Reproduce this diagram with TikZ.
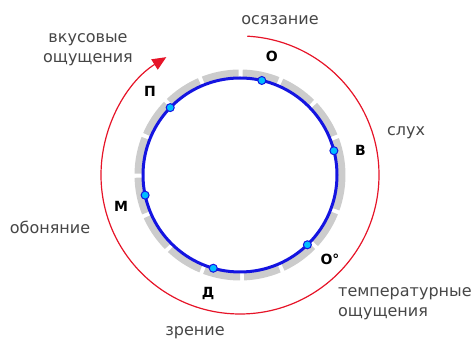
\documentclass[tikz,border=0pt]{standalone}
\usepackage{fontspec}
\setmainfont{DejaVu Sans}
\usetikzlibrary{arrows.meta, calc}
\definecolor{ringblue}{RGB}{20,20,225}
\definecolor{dotcyan}{RGB}{0,190,255}
\definecolor{sensered}{RGB}{230,20,40}
\definecolor{labelgray}{RGB}{70,70,70}

\begin{document}
\begin{tikzpicture}[x=1pt, y=1pt,
    sense/.style={text=labelgray, font=\fontsize{16}{20}\selectfont, inner sep=0pt},
    letter/.style={font=\fontsize{14}{14}\selectfont\bfseries, inner sep=0pt},
    dot/.style={circle, draw=ringblue, fill=dotcyan, line width=1pt,
      minimum size=8pt, inner sep=0pt}
  ]
  \useasboundingbox (0,0) rectangle (475,342);
  \coordinate (c) at (240,167);
  \draw[gray!40, line width=9pt, dash pattern=on 36pt off 4pt] (c) circle[radius=101];
  \draw[ringblue, line width=3pt] (c) circle[radius=97];
  \draw[sensered, line width=1.2pt, -{Triangle[length=14pt,width=12pt]}]
    ($(c)+(87:139)$) arc[start angle=87, end angle=-238, radius=139];
  \foreach \a/\n/\t/\b in {77/touch/О/75, 14.5/hear/В/11.5, -46/temp/О°/-43,
      -106/sight/Д/-105, 192/smell/М/195, 136/taste/П/137} {
    \node[dot] (\n) at ($(c)+(\a:97)$) {};
    \node[letter] (l\n) at ($(c)+(\b:123)$) {\t};
  }
  \node[sense] (stouch) at (280,322) {осязание};
  \node[sense, align=center] (staste) at (88,292) {вкусовые\\ощущения};
  \node[sense] (shear) at (406,209) {слух};
  \node[sense] (ssmell) at (50,115) {обоняние};
  \node[sense] (ssight) at (195,9) {зрение};
  \node[sense, align=left, anchor=west] (stemp) at (338,38) {температурные\\ощущения};
\end{tikzpicture}
\end{document}
